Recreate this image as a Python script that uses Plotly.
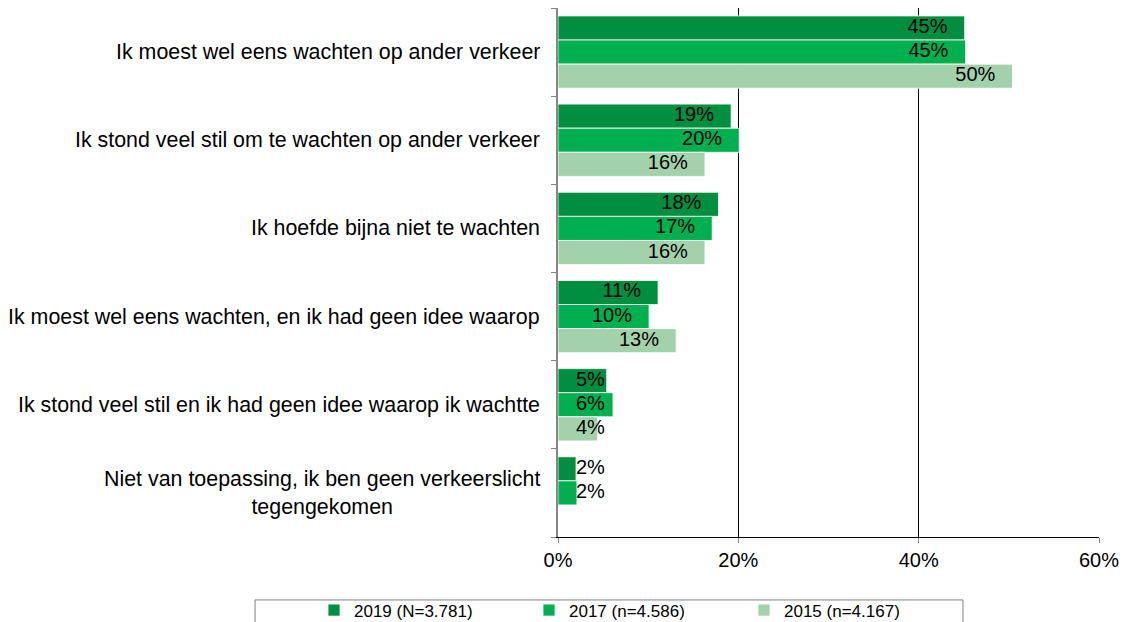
import plotly.graph_objects as go

categories = [
    "Ik moest wel eens wachten op ander verkeer",
    "Ik stond veel stil om te wachten op ander verkeer",
    "Ik hoefde bijna niet te wachten",
    "Ik moest wel eens wachten, en ik had geen idee waarop",
    "Ik stond veel stil en ik had geen idee waarop ik wachtte",
    "Niet van toepassing, ik ben geen verkeerslicht<br>tegengekomen",
]
series_names = ["2019 (N=3.781)", "2017 (n=4.586)", "2015 (n=4.167)"]
v2019 = [45.1, 19.2, 17.8, 11.1, 5.4, 2.0]
v2017 = [45.2, 20.1, 17.1, 10.1, 6.1, 2.1]
v2015 = [50.4, 16.3, 16.3, 13.1, 4.4, None]
series_values = [v2019, v2017, v2015]
colors = ["#008E40", "#00B050", "#A2D1AC"]
x_ticks = [0, 20, 40, 60]
x_tick_labels = ["0%", "20%", "40%", "60%"]

FONT = "Liberation Sans, Arial, sans-serif"
BARGAP = 0.18
LABEL_PAD = 1.9     # distance of label's right edge from bar end (in % units)
MIN_RIGHT = 5.2     # labels never start closer to the axis than this

idx = list(range(len(categories)))
n_series = len(series_values)
slot = (1 - BARGAP) / n_series

fig = go.Figure()
for k, (name, vals, col) in enumerate(zip(series_names, series_values, colors)):
    fig.add_trace(go.Bar(
        y=idx, x=vals, name=name, orientation="h",
        marker=dict(color=col, line=dict(color="white", width=0.8)),
        hoverinfo="skip",
    ))
for k, vals in enumerate(series_values):
    off = (k - (n_series - 1) / 2) * slot
    ys, xs, ts = [], [], []
    for i, v in zip(idx, vals):
        if v is None:
            continue
        ys.append(i + off)
        xs.append(max(v - LABEL_PAD, MIN_RIGHT))
        ts.append(f"{round(v):d}%")
    fig.add_trace(go.Scatter(
        y=ys, x=xs, text=ts, mode="text", textposition="middle left",
        textfont=dict(family=FONT, size=20, color="#000000"),
        showlegend=False, hoverinfo="skip", cliponaxis=False,
    ))

for i, c in zip(idx, categories):
    fig.add_annotation(
        x=0, xref="paper", y=i, yref="y", text=c, showarrow=False,
        xanchor="right", yanchor="middle", align="center", xshift=-16,
        font=dict(family=FONT, size=21.4, color="#000000"),
    )

# legend frame
fig.add_shape(type="rect", xref="paper", yref="paper",
              x0=-0.560, x1=0.7486, y0=-0.119, y1=-0.25,
              line=dict(color="#7F7F7F", width=1), fillcolor="rgba(0,0,0,0)")

fig.update_layout(
    width=1127, height=614,
    margin=dict(l=550, r=36, t=0, b=85, autoexpand=False),
    paper_bgcolor="white", plot_bgcolor="white",
    barmode="group", bargap=BARGAP, bargroupgap=0.0,
    font=dict(family=FONT, size=20, color="#000000"),
    showlegend=True,
    legend=dict(orientation="h", x=-0.451, xanchor="left", y=-0.105, yanchor="top",
                entrywidth=170, font=dict(family=FONT, size=17, color="#000000"),
                bgcolor="rgba(0,0,0,0)", borderwidth=0, traceorder="normal"),
    xaxis=dict(range=[0, 60], tickvals=x_ticks, ticktext=x_tick_labels,
               showgrid=True, gridcolor="#000000", gridwidth=1,
               showline=True, linecolor="#000000", linewidth=1,
               ticks="outside", ticklen=5, tickcolor="#868686",
               zeroline=False, tickfont=dict(family=FONT, size=20, color="#000000"),
               fixedrange=True),
    yaxis=dict(range=[len(categories) - 0.5, -0.5],
               tickvals=[i - 0.5 for i in range(len(categories) + 1)],
               showticklabels=False, ticks="outside", ticklen=5, tickcolor="#868686",
               showline=True, linecolor="#868686", linewidth=1.5,
               showgrid=False, zeroline=False, fixedrange=True),
)

fig.write_html("out.html")
